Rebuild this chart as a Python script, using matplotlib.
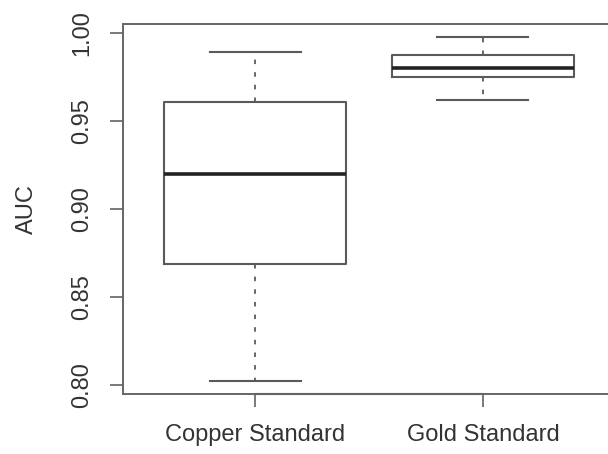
import matplotlib
matplotlib.use('Agg')
import matplotlib.pyplot as plt

# values (AUC)
groups = ['Copper Standard', 'Gold Standard']
whislo = [0.802, 0.962]
q1 = [0.869, 0.975]
med = [0.920, 0.980]
q3 = [0.961, 0.9875]
whishi = [0.989, 0.9975]

plt.rcParams['font.family'] = ['Liberation Sans', 'DejaVu Sans']

stats = []
for i in range(len(groups)):
    stats.append(dict(label=groups[i], whislo=whislo[i], q1=q1[i], med=med[i],
                      q3=q3[i], whishi=whishi[i], fliers=[]))

fig = plt.figure(figsize=(6.08, 4.54), dpi=100)
ax = fig.add_axes([0.2023, 0.1322, 0.8092, 0.815])

line_col = '#5a5a5a'
ax.bxp(stats, positions=[1, 2], widths=0.8, showfliers=False,
       boxprops=dict(color=line_col, lw=1.5),
       medianprops=dict(color='#222222', lw=2.6),
       whiskerprops=dict(color=line_col, lw=1.3, linestyle=(0, (2.5, 4.5))),
       capprops=dict(color=line_col, lw=1.5), capwidths=0.4)

ax.set_xlim(0.42, 2.58)
ax.set_ylim(0.7949, 1.0051)
ax.set_yticks([0.80, 0.85, 0.90, 0.95, 1.00])
ax.set_yticklabels(['0.80', '0.85', '0.90', '0.95', '1.00'], rotation=90, va='center')
ax.set_xticks([1, 2])
ax.set_xticklabels(groups)

for s in ax.spines.values():
    s.set_color('#666666')
    s.set_linewidth(1.4)
# R draws the x axis line only between the outer ticks
ax.plot([1, 2], [0.7949, 0.7949], color='#333333', lw=1.5, clip_on=False)

ax.tick_params(axis='both', length=9.5, width=1.1, color='#555555',
               labelsize=17, labelcolor='#333333')
ax.tick_params(axis='x', pad=12)
ax.tick_params(axis='y', pad=12)

ax.set_ylabel('AUC', fontsize=17, color='#333333', labelpad=24)

fig.savefig('out.png', dpi=100)
